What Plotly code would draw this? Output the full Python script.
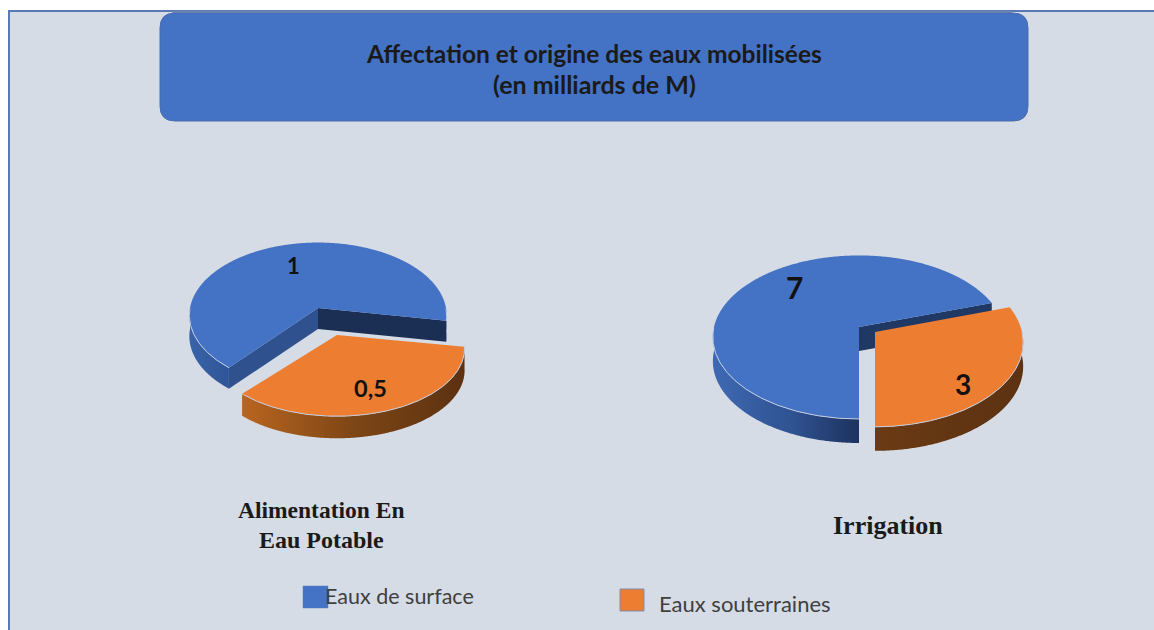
import numpy as np
import plotly.graph_objects as go

# --- data ---
series_names = ["Eaux de surface", "Eaux souterraines"]
aep_values = [1, 0.5]
irrigation_values = [7, 3]
aep_labels = ["1", "0,5"]
irrigation_labels = ["7", "3"]
pie_titles = ["Alimentation En<br>Eau Potable", "Irrigation"]
main_title = "Affectation et origine des eaux mobilisées<br>(en milliards de M)"

# --- style ---
BLUE, ORANGE = "#4472c4", "#ed7d31"
PANEL = "#d6dce5"


def pt(g, phi):
    """Project a rim angle (deg, clockwise from east on screen) on a tilted disc."""
    a = np.radians(phi)
    s = 1 / (1 - g["p"] * np.sin(a))
    return g["cx"] + g["rx"] * np.cos(a) * s, g["cy"] + g["ry"] * np.sin(a) * s


def arc(g, a0, a1):
    return pt(g, np.linspace(a0, a1, int(abs(a1 - a0)) * 2 + 2))


def poly(fig, xs, ys, color=None, scale=None):
    kw = dict(x=list(xs), y=list(ys), fill="toself", hoverinfo="skip", showlegend=False, mode="none")
    if scale:
        kw["fillgradient"] = dict(type="horizontal", colorscale=scale)
    else:
        kw["fillcolor"] = color
    fig.add_trace(go.Scatter(**kw))


def rim(fig, g, a0, a1, scale):
    """Visible outer side: the part of the arc on the near half of the disc."""
    for k in (0, 360):
        l, h = max(a0, k), min(a1, k + 180)
        if h > l:
            x, y = arc(g, l, h)
            poly(fig, np.r_[x, x[::-1]], np.r_[y, y[::-1] + g["d"]], scale=scale)


def wall(fig, g, a, color):
    x, y = pt(g, a)
    cx, cy, d = g["cx"], g["cy"], g["d"]
    poly(fig, [cx, x, x, cx], [cy, y, y + d, cy + d], color)


def top(fig, g, a0, a1, color):
    x, y = arc(g, a0, a1)
    poly(fig, np.r_[g["cx"], x, g["cx"]], np.r_[g["cy"], y, g["cy"]], color)
    phis = np.linspace(a0, a1, 300)
    ex, ey = pt(g, phis)
    vis = np.sin(np.radians(phis)) > 0
    ex, ey = ex.copy(), ey.copy()
    ex[~vis] = np.nan
    ey[~vis] = np.nan
    fig.add_trace(go.Scatter(x=list(ex), y=list(ey), mode="lines", hoverinfo="skip",
                             showlegend=False, line=dict(color="#c4cfe3", width=1)))


fig = go.Figure()

BLUE_RIM_1 = [[0, "#3a63a8"], [1, "#2f5597"]]
BLUE_RIM_2 = [[0, "#3e69b3"], [0.55, "#2f5290"], [1, "#1d325e"]]
ORANGE_RIM_1 = [[0, "#b9651f"], [0.5, "#7d4615"], [1, "#5c3111"]]
ORANGE_RIM_2 = [[0, "#6a3a13"], [1, "#5c3212"]]

# Alimentation En Eau Potable
sweep = 360 * aep_values[1] / sum(aep_values)
a_start = 10
g_b = dict(cx=318, cy=308, rx=128, ry=72, p=0.10, d=21)
g_o = dict(cx=337, cy=335, rx=125, ry=65, p=0.20, d=22)
rim(fig, g_b, a_start + sweep, a_start + 360, BLUE_RIM_1)
wall(fig, g_b, a_start, "#1b2e54")
wall(fig, g_b, a_start + sweep, "#2f528f")
top(fig, g_b, a_start + sweep, a_start + 360, BLUE)
rim(fig, g_o, a_start, a_start + sweep, ORANGE_RIM_1)
top(fig, g_o, a_start, a_start + sweep, ORANGE)

# Irrigation
sweep = 360 * irrigation_values[1] / sum(irrigation_values)
a_start = -18
g_b = dict(cx=859, cy=327, rx=145, ry=80.5, p=0.125, d=24)
g_o = dict(cx=875, cy=332, rx=147, ry=83, p=0.125, d=24)
rim(fig, g_b, a_start + sweep, a_start + 360, BLUE_RIM_2)
wall(fig, g_b, a_start, "#1f3864")
top(fig, g_b, a_start + sweep, a_start + 360, BLUE)
rim(fig, g_o, max(a_start, 0), a_start + sweep, ORANGE_RIM_2)
top(fig, g_o, a_start, a_start + sweep, ORANGE)


def rounded(x0, y0, x1, y1, r):
    return (f"M{x0+r},{y0} L{x1-r},{y0} Q{x1},{y0} {x1},{y0+r} L{x1},{y1-r} Q{x1},{y1} {x1-r},{y1} "
            f"L{x0+r},{y1} Q{x0},{y1} {x0},{y1-r} L{x0},{y0+r} Q{x0},{y0} {x0+r},{y0} Z")


shapes = [
    dict(type="rect", x0=9, y0=11, x1=1160, y1=640, fillcolor=PANEL, line=dict(color="#5a7ab5", width=2), layer="below"),
    dict(type="rect", x0=172, y0=11.5, x1=1012, y1=14, fillcolor="#7f8fb0", line=dict(width=0), layer="below"),
    dict(type="path", path=rounded(160, 13, 1028, 121, 15), fillcolor=BLUE, line=dict(color="#4a6cae", width=1), layer="below"),
    dict(type="rect", x0=303, y0=586, x1=328, y1=608, fillcolor=BLUE, line=dict(color="#5b7fc0", width=0.5), layer="below"),
    dict(type="rect", x0=620, y0=589, x1=644, y1=611, fillcolor=ORANGE, line=dict(color="#7f8fb5", width=1), layer="below"),
]

LATO = "Lato, sans-serif"
SERIF = "Liberation Serif, serif"
DARK = "#1a1a1a"


def note(x, y, text, font, size, color=DARK, bold=True):
    return dict(x=x, y=y, xref="x", yref="y", text=f"<b>{text}</b>" if bold else text, showarrow=False,
                font=dict(family=font, size=size, color=color), xanchor="center", yanchor="middle", align="center")


annotations = [
    note(594, 53, main_title.split("<br>")[0], LATO, 24.5),
    note(594, 84, main_title.split("<br>")[1], LATO, 25),
    note(293, 265, aep_labels[0], LATO, 22, "#111111"),
    note(370, 388, aep_labels[1], LATO, 23.5, "#111111"),
    note(794, 287, irrigation_labels[0], LATO, 30, "#111111"),
    note(963, 384, irrigation_labels[1], LATO, 28, "#111111"),
    note(321, 510, pie_titles[0].split("<br>")[0], SERIF, 23.5),
    note(321.5, 540, pie_titles[0].split("<br>")[1], SERIF, 24),
    note(888, 525, pie_titles[1], SERIF, 26),
    note(399.5, 596, series_names[0], LATO, 21.5, "#404040", bold=False),
    note(745, 603, series_names[1], LATO, 22, "#404040", bold=False),
]

fig.update_layout(
    width=1154, height=630, margin=dict(l=0, r=0, t=0, b=0),
    paper_bgcolor="white", plot_bgcolor="rgba(0,0,0,0)", showlegend=False,
    xaxis=dict(range=[0, 1154], visible=False, fixedrange=True),
    yaxis=dict(range=[630, 0], visible=False, fixedrange=True),
    shapes=shapes, annotations=annotations,
)
fig.write_html(
    "out.html",
    config=dict(displayModeBar=False),
    post_script="document.body.style.margin='0';document.documentElement.style.overflow='hidden';",
)
